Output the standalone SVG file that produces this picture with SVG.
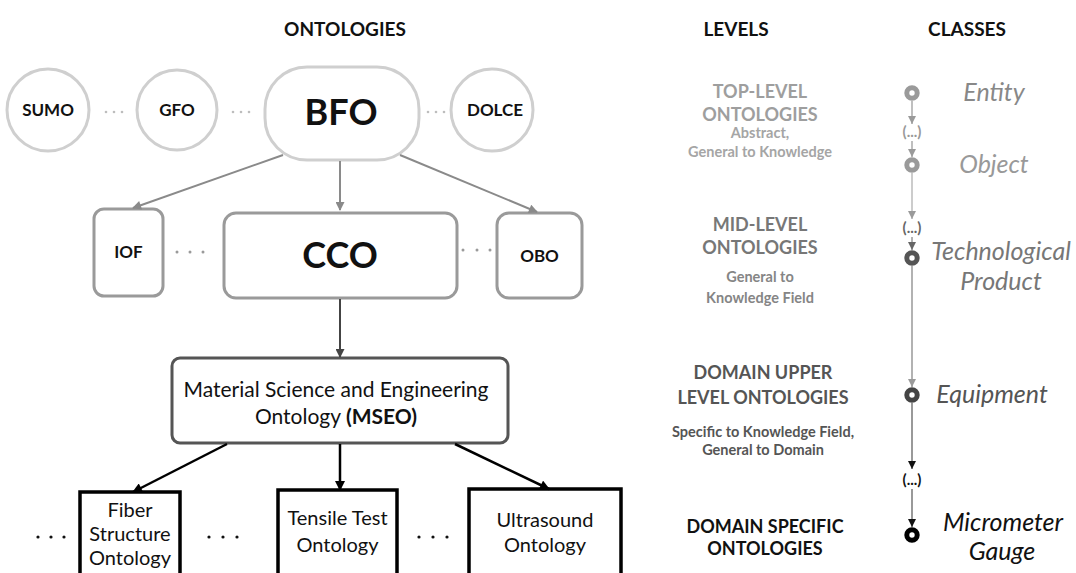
<svg xmlns="http://www.w3.org/2000/svg" width="1076" height="573" viewBox="0 0 1076 573">
<defs>
<marker id="ahGray" viewBox="0 0 10 10" refX="9" refY="5" markerWidth="10" markerHeight="9" markerUnits="userSpaceOnUse" orient="auto"><path d="M0,0 L10,5 L0,10 z" fill="#8a8a8a"/></marker>
<marker id="ahDark" viewBox="0 0 10 10" refX="9" refY="5" markerWidth="10" markerHeight="9" markerUnits="userSpaceOnUse" orient="auto"><path d="M0,0 L10,5 L0,10 z" fill="#444"/></marker>
<marker id="ahBlack" viewBox="0 0 10 10" refX="9" refY="5" markerWidth="11" markerHeight="10" markerUnits="userSpaceOnUse" orient="auto"><path d="M0,0 L10,5 L0,10 z" fill="#000"/></marker>
<marker id="cLight" viewBox="0 0 10 10" refX="10" refY="5" markerWidth="8" markerHeight="9" markerUnits="userSpaceOnUse" orient="auto"><path d="M0,0 L10,5 L0,10 z" fill="#9a9a9a"/></marker>
<marker id="cMid" viewBox="0 0 10 10" refX="10" refY="5" markerWidth="8" markerHeight="9" markerUnits="userSpaceOnUse" orient="auto"><path d="M0,0 L10,5 L0,10 z" fill="#666"/></marker>
<marker id="cBlack" viewBox="0 0 10 10" refX="10" refY="5" markerWidth="8" markerHeight="9" markerUnits="userSpaceOnUse" orient="auto"><path d="M0,0 L10,5 L0,10 z" fill="#111"/></marker>
</defs>
<style>
text{font-family:Lato,"Open Sans","Liberation Sans",sans-serif;text-anchor:middle}
.hdr{font-size:19px;font-weight:bold;fill:#111}
.top{fill:#fff;stroke:#cfcfcf;stroke-width:3}
.mid{fill:#fff;stroke:#9a9a9a;stroke-width:3}
.mseo{fill:#fff;stroke:#555;stroke-width:3}
.dom{fill:#fff;stroke:#000;stroke-width:3.5}
.lbl{font-size:17px;font-weight:bold;fill:#111}
.big{font-size:36px;font-weight:bold;fill:#111}
.reg{font-size:20px;fill:#111}
.ms{font-size:21px;fill:#111}
.lvl{font-size:18px;font-weight:bold}
.sub{font-size:14.5px;font-weight:bold}
.cls{font-size:25px;font-style:italic}
.ell{font-size:15px;font-weight:bold}
.ring{fill:#fff;stroke-width:5}
.ln{fill:none}
</style>

<text class="hdr" x="345" y="36">ONTOLOGIES</text>
<text class="hdr" x="736" y="36">LEVELS</text>
<text class="hdr" x="967" y="36">CLASSES</text>

<g id="sumo"><circle class="top" cx="48" cy="110" r="41"/><text class="lbl" x="48" y="116">SUMO</text></g>
<g id="gfo"><circle class="top" cx="177" cy="110" r="40"/><text class="lbl" x="177" y="116">GFO</text></g>
<g id="bfo"><rect class="top" x="265" y="67" width="154" height="93" rx="42"/><text class="big" x="341" y="125">BFO</text></g>
<g id="dolce"><circle class="top" cx="492" cy="110" r="41"/><text class="lbl" x="495" y="116">DOLCE</text></g>
<g id="dots-top" fill="#bdbdbd">
<circle cx="106" cy="112" r="1.3"/><circle cx="114" cy="112" r="1.3"/><circle cx="122" cy="112" r="1.3"/>
<circle cx="233" cy="112" r="1.3"/><circle cx="241" cy="112" r="1.3"/><circle cx="249" cy="112" r="1.3"/>
<circle cx="428" cy="112" r="1.3"/><circle cx="436" cy="112" r="1.3"/><circle cx="444" cy="112" r="1.3"/>
</g>

<g id="iof"><rect class="mid" x="94" y="209" width="69" height="87" rx="10"/><text class="lbl" x="128.5" y="258">IOF</text></g>
<g id="cco"><rect class="mid" x="224" y="213" width="233" height="85" rx="12"/><text class="big" x="340" y="268">CCO</text></g>
<g id="obo"><rect class="mid" x="497" y="213" width="85" height="85" rx="12"/><text class="lbl" x="539.5" y="262">OBO</text></g>
<g id="dots-mid" fill="#9a9a9a">
<circle cx="177" cy="252" r="1.5"/><circle cx="190" cy="252" r="1.5"/><circle cx="203" cy="252" r="1.5"/>
<circle cx="463" cy="250" r="1.5"/><circle cx="477" cy="250" r="1.5"/><circle cx="490" cy="250" r="1.5"/>
</g>

<g id="mseo"><rect class="mseo" x="172" y="358" width="336" height="85" rx="8"/>
<text class="ms" x="336" y="397">Material Science and Engineering</text>
<text class="ms" x="336" y="424">Ontology <tspan font-weight="bold">(MSEO)</tspan></text></g>

<g id="fiber"><rect class="dom" x="80" y="492" width="100" height="100"/>
<text class="reg" x="130" y="517">Fiber</text><text class="reg" x="130" y="541">Structure</text><text class="reg" x="130" y="565">Ontology</text></g>
<g id="tensile"><rect class="dom" x="278" y="490" width="119" height="100"/>
<text class="reg" x="337.5" y="525">Tensile Test</text><text class="reg" x="337.5" y="552">Ontology</text></g>
<g id="ultrasound"><rect class="dom" x="469" y="489" width="152" height="100"/>
<text class="reg" x="545" y="527">Ultrasound</text><text class="reg" x="545" y="552">Ontology</text></g>
<g id="dots-bot" fill="#111">
<circle cx="38" cy="537" r="1.6"/><circle cx="51" cy="537" r="1.6"/><circle cx="64" cy="537" r="1.6"/>
<circle cx="209" cy="537" r="1.6"/><circle cx="223" cy="537" r="1.6"/><circle cx="237" cy="537" r="1.6"/>
<circle cx="419" cy="537" r="1.6"/><circle cx="433" cy="537" r="1.6"/><circle cx="447" cy="537" r="1.6"/>
</g>

<g id="connectors" class="ln">
<line x1="283" y1="155" x2="133" y2="208" stroke="#8a8a8a" stroke-width="2" marker-end="url(#ahGray)"/>
<line x1="340" y1="161" x2="340" y2="210" stroke="#8a8a8a" stroke-width="2" marker-end="url(#ahGray)"/>
<line x1="400" y1="155" x2="537" y2="212" stroke="#8a8a8a" stroke-width="2" marker-end="url(#ahGray)"/>
<line x1="340" y1="299" x2="340" y2="357" stroke="#444" stroke-width="2" marker-end="url(#ahDark)"/>
<line x1="227" y1="444" x2="133" y2="492" stroke="#000" stroke-width="2.5" marker-end="url(#ahBlack)"/>
<line x1="340" y1="444" x2="340" y2="490" stroke="#000" stroke-width="2.5" marker-end="url(#ahBlack)"/>
<line x1="455" y1="444" x2="549" y2="489" stroke="#000" stroke-width="2.5" marker-end="url(#ahBlack)"/>
</g>

<g id="levels">
<text class="lvl" x="760" y="98" fill="#9e9e9e">TOP-LEVEL</text>
<text class="lvl" x="760" y="121" fill="#9e9e9e">ONTOLOGIES</text>
<text class="sub" x="760" y="138" fill="#a5a5a5">Abstract,</text>
<text class="sub" x="760" y="157" fill="#a5a5a5">General to Knowledge</text>
<text class="lvl" x="760" y="231" fill="#777">MID-LEVEL</text>
<text class="lvl" x="760" y="254" fill="#777">ONTOLOGIES</text>
<text class="sub" x="760" y="282" fill="#858585">General to</text>
<text class="sub" x="760" y="303" fill="#858585">Knowledge Field</text>
<text class="lvl" x="763" y="379" fill="#555">DOMAIN UPPER</text>
<text class="lvl" x="763" y="404" fill="#555">LEVEL ONTOLOGIES</text>
<text class="sub" x="763" y="437" fill="#555">Specific to Knowledge Field,</text>
<text class="sub" x="763" y="455" fill="#555">General to Domain</text>
<text class="lvl" x="765" y="533" fill="#111">DOMAIN SPECIFIC</text>
<text class="lvl" x="765" y="555" fill="#111">ONTOLOGIES</text>
</g>

<g id="class-links" class="ln">
<line x1="912" y1="101" x2="912" y2="124" stroke="#aaa" stroke-width="1.5" marker-end="url(#cLight)"/>
<line x1="912" y1="141" x2="912" y2="157" stroke="#aaa" stroke-width="1.5" marker-end="url(#cLight)"/>
<line x1="912" y1="173" x2="912" y2="219" stroke="#bbb" stroke-width="1.5" marker-end="url(#cLight)"/>
<line x1="912" y1="237" x2="912" y2="250" stroke="#999" stroke-width="1.5" marker-end="url(#cMid)"/>
<line x1="912" y1="266" x2="912" y2="387" stroke="#999" stroke-width="1.5" marker-end="url(#cLight)"/>
<line x1="912" y1="403" x2="912" y2="469" stroke="#777" stroke-width="1.5" marker-end="url(#cBlack)"/>
<line x1="912" y1="489" x2="912" y2="527" stroke="#777" stroke-width="1.5" marker-end="url(#cBlack)"/>
</g>

<g id="entity"><circle class="ring" cx="912" cy="93" r="5.2" stroke="#9a9a9a"/><text class="cls" x="994" y="101" fill="#888">Entity</text></g>
<text class="ell" x="912" y="137" fill="#999">(...)</text>
<g id="object"><circle class="ring" cx="912" cy="165" r="5.2" stroke="#9a9a9a"/><text class="cls" x="994" y="173" fill="#999">Object</text></g>
<text class="ell" x="912" y="233" fill="#666">(...)</text>
<g id="techproduct"><circle class="ring" cx="912" cy="258" r="5.2" stroke="#555"/><text class="cls" x="1001" y="260" fill="#777">Technological</text><text class="cls" x="1001" y="290" fill="#777">Product</text></g>
<g id="equipment"><circle class="ring" cx="912" cy="395" r="5.2" stroke="#444"/><text class="cls" x="992" y="403" fill="#555">Equipment</text></g>
<text class="ell" x="912" y="485" fill="#111">(...)</text>
<g id="micrometer"><circle class="ring" cx="912" cy="535" r="5.2" stroke="#000"/><text class="cls" x="1003" y="531" fill="#111">Micrometer</text><text class="cls" x="1002" y="560" fill="#111">Gauge</text></g>
</svg>
